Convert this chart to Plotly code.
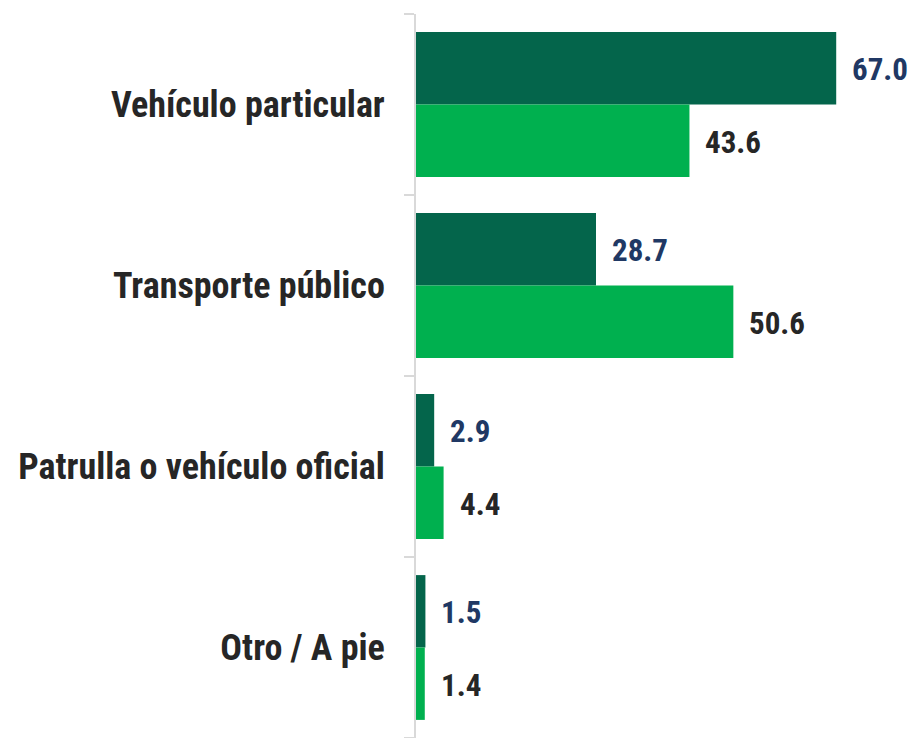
import plotly.graph_objects as go

categories = ["Vehículo particular", "Transporte público", "Patrulla o vehículo oficial", "Otro / A pie"]
series_a = [67.0, 28.7, 2.9, 1.5]
series_b = [43.6, 50.6, 4.4, 1.4]

dark = "#04654B"
light = "#00B04F"
font_family = "Liberation Sans Narrow, Arial Narrow, Roboto Condensed, Liberation Sans, Arial, sans-serif"

fig = go.Figure()
fig.add_trace(go.Bar(y=categories, x=series_a, orientation="h", marker=dict(color=dark, line=dict(width=0)), name="A"))
fig.add_trace(go.Bar(y=categories, x=series_b, orientation="h", marker=dict(color=light, line=dict(width=0)), name="B"))

annotations = []
for cat, a, b in zip(categories, series_a, series_b):
    annotations.append(dict(x=a, y=cat, text=f"<b>{a:.1f}</b>", showarrow=False, xanchor="left",
                            xshift=14, yshift=35, font=dict(size=31, color="#203864", family=font_family)))
    annotations.append(dict(x=b, y=cat, text=f"<b>{b:.1f}</b>", showarrow=False, xanchor="left",
                            xshift=14, yshift=-38, font=dict(size=31, color="#262626", family=font_family)))

fig.update_layout(
    width=911, height=730,
    margin=dict(l=408, r=0, t=6, b=0),
    paper_bgcolor="white", plot_bgcolor="white",
    showlegend=False, barmode="group", bargap=0.2, bargroupgap=0,
    annotations=annotations,
    font=dict(family=font_family),
)
fig.update_xaxes(range=[0, 80.2], visible=False)
fig.update_yaxes(autorange="reversed", showline=True, linecolor="#D9D9D9", linewidth=2,
                 ticks="outside", tickson="boundaries", ticklen=10, tickcolor="#D9D9D9", tickwidth=2,
                 ticklabelstandoff=22, showgrid=False,
                 tickvals=categories, ticktext=[f"<b>{c}</b>" for c in categories],
                 tickfont=dict(size=36, color="#262626", family=font_family))
fig.update_traces(cliponaxis=False)
fig.write_html("out.html")
